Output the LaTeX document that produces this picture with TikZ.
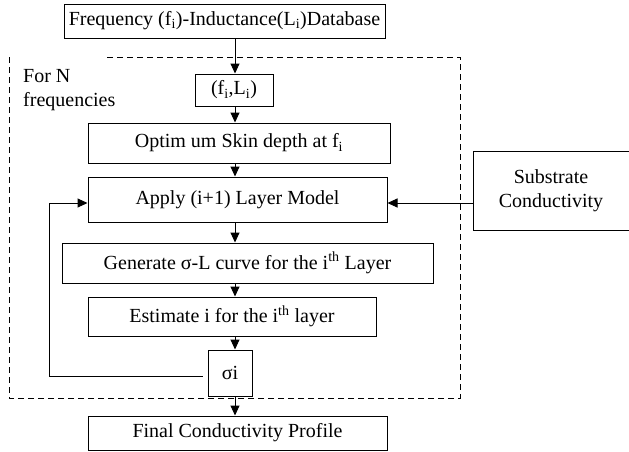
\documentclass[tikz,border=0pt]{standalone}
\usepackage{fontspec}
\setmainfont{Liberation Serif}
\usetikzlibrary{arrows.meta}
\usetikzlibrary{positioning}

\begin{document}
\begin{tikzpicture}[x=1pt,y=-1pt,
	box/.style={draw, line width=1pt, inner sep=0pt, align=center, font=\fontsize{20}{24}\selectfont},
	arr/.style={-{Triangle[length=10pt,width=9pt]}, line width=1pt}]
	\useasboundingbox (0,0) rectangle (629,451);
	\path (235,0) coordinate(spine)
	(49,376) coordinate(back)
	(0,203) coordinate(feed)
	(107,57) coordinate(l1)
	(460,57) coordinate(l2)
	(460,398) coordinate(l3)
	(9,398) coordinate(l4)
	(9,57) coordinate(l5);
	\draw[dashed, dash pattern=on 6pt off 4pt, line width=1pt] (l1) -- (l2) -- (l3) -- (l4) -- (l5);
	
	\node[box, minimum width=321pt, minimum height=34pt] (db) at (224.5,21) {Frequency (f\textsubscript{i})-Inductance(L\textsubscript{i})Database};
	\node[box, minimum width=78pt, minimum height=32pt] (fl) at (234,90) {(f\textsubscript{i},L\textsubscript{i})};
	\node[box, minimum width=302pt, minimum height=40pt] (optim) at (239,143) {Optim um Skin depth at f\textsubscript{i}};
	\node[box, minimum width=299pt, minimum height=45pt] (apply) at (237.5,199.5) {Apply (i+1) Layer Model};
	\node[box, minimum width=371pt, minimum height=40pt] (gen) at (247.5,263) {Generate σ-L curve for the i\textsuperscript{th} Layer};
	\node[box, minimum width=288pt, minimum height=39pt] (est) at (232,316.5) {Estimate i for the i\textsuperscript{th} layer};
	\node[box, minimum width=44pt, minimum height=46pt] (sig) at (230,373) {σi};
	\node[box, minimum width=299pt, minimum height=34pt] (final) at (237.5,433) {Final Conductivity Profile};
	\node[box, minimum width=156pt, minimum height=79pt] (subs) at (551,190.5) {Substrate\\Conductivity};
	\node[anchor=north west, inner sep=0pt, align=left, font=\fontsize{20}{24}\selectfont] (loopnote) at (23,69.5) {For N\\frequencies};
	
	\draw[arr] (spine |- db.south) -- (spine |- fl.north);
	\draw[arr] (spine |- fl.south) -- (spine |- optim.north);
	\draw[arr] (spine |- optim.south) -- (spine |- apply.north);
	\draw[arr] (spine |- apply.south) -- (spine |- gen.north);
	\draw[arr] (spine |- gen.south) -- (spine |- est.north);
	\draw[arr] (spine |- est.south) -- (spine |- sig.north);
	\draw[arr] (spine |- sig.south) -- (spine |- final.north);
	\draw[arr] (subs.west |- feed) -- (apply.east |- feed);
	\draw[arr, shorten <=5pt] (sig.west |- back) -- (back) |- (apply.west |- feed);
	
\end{tikzpicture}
\end{document}
